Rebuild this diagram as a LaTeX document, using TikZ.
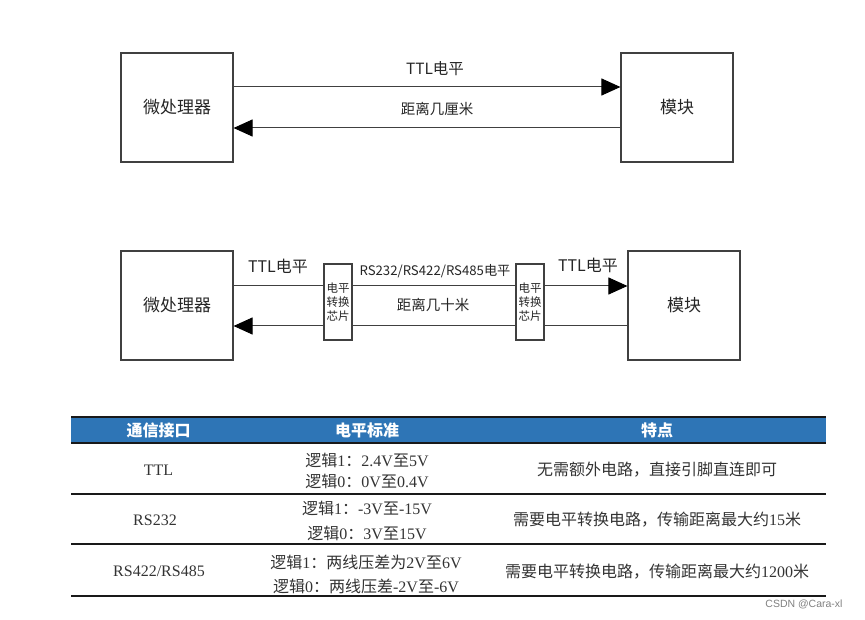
\documentclass[tikz,border=0pt]{standalone}
\usepackage{fontspec}
\setmainfont{Liberation Serif}
\newfontfamily\cjk{Noto Sans CJK SC}
\newfontfamily\wmfont{Liberation Sans}
\usetikzlibrary{arrows.meta}
\newcommand{\zh}[1]{{\cjk #1}}
\definecolor{hdrblue}{RGB}{46,117,182}
\definecolor{linegray}{RGB}{64,64,64}
\definecolor{tline}{RGB}{25,25,25}
\begin{document}
\begin{tikzpicture}[x=1pt,y=-1pt,
  box/.style={draw=linegray,line width=1.1pt,minimum width=112pt,minimum height=109pt,inner sep=0pt,font=\cjk\fontsize{17}{20}\selectfont,text=black!85},
  chip/.style={draw=linegray,line width=1.1pt,minimum width=28pt,minimum height=76pt,inner sep=0pt,align=center,font=\cjk\fontsize{11.5}{14}\selectfont,text=black!85},
  conn/.style={draw=linegray,line width=1pt},
  arr/.style={conn,-{Triangle[length=19pt,width=17pt,black]}},
  lbl/.style={inner sep=0pt,text=black!85},
  tcell/.style={inner sep=0pt,align=center,font=\fontsize{16}{24}\selectfont,text=black!80},
  hcell/.style={inner sep=0pt,text=white,font=\cjk\bfseries\fontsize{16}{20}\selectfont},
  rule/.style={draw=tline,line width=2pt}
]
\useasboundingbox (0,0) rectangle (865,620);

% ---------- top diagram ----------
\node[box] (L1) at (177,107.5) {微处理器};
\node[box] (R1) at (677,107.5) {模块};
\coordinate (y1a) at (0,87);
\coordinate (y1b) at (0,128);
\draw[arr] (L1.east |- y1a) -- (R1.west |- y1a);
\draw[arr] (R1.west |- y1b) -- (L1.east |- y1b);
\node[lbl,font=\cjk\fontsize{15.5}{18}\selectfont] (t1) at (435,69) {TTL电平};
\node[lbl,font=\cjk\fontsize{14.5}{18}\selectfont] (d1) at (437,109) {距离几厘米};

% ---------- second diagram ----------
\node[box] (L2) at (177,305.5) {微处理器};
\node[box] (R2) at (684,305.5) {模块};
\node[chip] (C1) at (338,302) {电平\\转换\\芯片};
\node[chip] (C2) at (530,302) {电平\\转换\\芯片};
\coordinate (y2a) at (0,286);
\coordinate (y2b) at (0,326);
\draw[conn] (L2.east |- y2a) -- (C1.west |- y2a);
\draw[conn] (C1.east |- y2a) -- (C2.west |- y2a);
\draw[arr] (C2.east |- y2a) -- (R2.west |- y2a);
\draw[conn] (R2.west |- y2b) -- (C2.east |- y2b);
\draw[conn] (C2.west |- y2b) -- (C1.east |- y2b);
\draw[arr] (C1.west |- y2b) -- (L2.east |- y2b);
\node[lbl,font=\cjk\fontsize{16}{18}\selectfont] (t2l) at (278,266) {TTL电平};
\node[lbl,font=\cjk\fontsize{13.2}{18}\selectfont] (t2m) at (435,271) {RS232/RS422/RS485电平};
\node[lbl,font=\cjk\fontsize{16}{18}\selectfont] (t2r) at (588,265) {TTL电平};
\node[lbl,font=\cjk\fontsize{14.5}{18}\selectfont] (d2) at (433,305) {距离几十米};

% ---------- table ----------
\fill[hdrblue] (71,417) rectangle (826,443);
\draw[rule] (71,417) -- (826,417);
\draw[rule] (71,443) -- (826,443);
\draw[rule] (71,494) -- (826,494);
\draw[rule] (71,544) -- (826,544);
\draw[rule] (71,595.5) -- (826,595.5);

\node[hcell] (h1) at (158.5,430.5) {通信接口};
\node[hcell] (h2) at (367,430.5) {电平标准};
\node[hcell] (h3) at (657,430.5) {特点};

\node[tcell] (a1) at (158.5,470) {TTL};
\node[tcell,font=\fontsize{16}{21}\selectfont] (b1) at (367,470.5) {\zh{逻辑}1\zh{：}2.4V\zh{至}5V\\\zh{逻辑}0\zh{：}0V\zh{至}0.4V};
\node[tcell] (c1) at (657,470) {\zh{无需额外电路，直接引脚直连即可}};

\node[tcell] (a2) at (155,520) {RS232};
\node[tcell,font=\fontsize{16}{25}\selectfont] (b2) at (367,520.5) {\zh{逻辑}1\zh{：}-3V\zh{至}-15V\\\zh{逻辑}0\zh{：}3V\zh{至}15V};
\node[tcell] (c2) at (657,520) {\zh{需要电平转换电路，传输距离最大约}15\zh{米}};

\node[tcell] (a3) at (159,571) {RS422/RS485};
\node[tcell,font=\fontsize{16}{24}\selectfont] (b3) at (366,574) {\zh{逻辑}1\zh{：两线压差为}2V\zh{至}6V\\\zh{逻辑}0\zh{：两线压差}-2V\zh{至}-6V};
\node[tcell] (c3) at (657,572) {\zh{需要电平转换电路，传输距离最大约}1200\zh{米}};

% watermark
\node[inner sep=0pt,text=black!50,font=\wmfont\fontsize{10.5}{12}\selectfont] (wm) at (804,604) {CSDN @Cara-xl};
\end{tikzpicture}
\end{document}
